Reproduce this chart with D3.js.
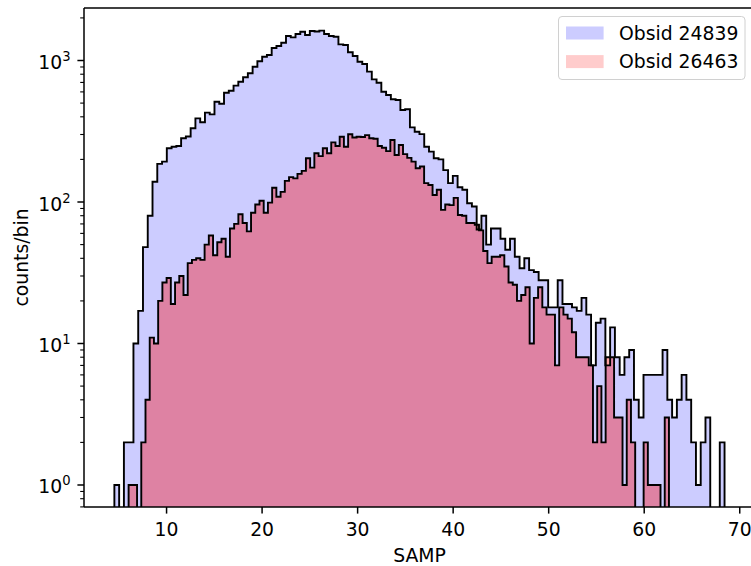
<!DOCTYPE html>
<html>
<head>
<meta charset="utf-8">
<script src="https://cdn.jsdelivr.net/npm/d3@7"></script>
<style>
body { margin: 0; background: #fff; }
text { font-family: "DejaVu Sans", sans-serif; fill: #000; }
</style>
</head>
<body>
<svg id="chart" width="751" height="566"></svg>
<script>
// counts per bin, 128 bins for each obsid
var blueCounts = [1,0,2,2,10,17,48,80,139,186,
    193,240,246,249,282,290,332,390,366,428,
    416,511,495,592,612,664,708,761,812,904,
    987,1064,1093,1225,1265,1335,1489,1458,1538,1598,
    1513,1616,1605,1625,1538,1489,1473,1301,1286,1143,
    1076,981,945,834,736,697,602,570,532,526,
    447,452,337,314,302,246,227,204,200,168,
    136,153,127,122,98,93,64,80,50,65,
    65,55,46,55,41,34,40,33,32,28,
    28,18,18,28,19,19,18,17,21,16,
    7,14,15,7,13,8,6,8,9,4,
    3,6,6,6,6,9,4,3,4,6,
    4,2,1,2,3,0,0,2];
var redCounts = [1,1,0,2,4,11,10,20,27,29,
    19,27,30,22,37,39,40,39,50,58,
    42,52,55,41,65,70,82,71,62,84,
    96,102,84,99,126,109,118,141,150,147,
    158,166,204,175,221,211,240,221,264,249,
    289,246,301,286,289,288,297,282,280,249,
    242,229,274,215,253,218,205,193,173,178,
    136,132,112,122,88,96,95,107,81,80,
    71,71,69,63,45,37,41,41,42,35,
    27,26,20,22,25,10,21,25,18,16,
    16,7,18,16,15,12,8,8,8,7,
    2,5,2,8,8,3,3,1,4,2,
    0,0,2,1,1,1,0,3];

// bin edges (SAMP units)
var blueBins = {start: 4.59, width: 0.499};
var redBins = {start: 6.08, width: 0.4419};

var seriesNames = ["Obsid 24839", "Obsid 26463"];
var xTicks = [10, 20, 30, 40, 50, 60, 70];
var yMajor = [1, 10, 100, 1000];
var yExp = ["0", "1", "2", "3"];

var fs = 18.8;
var margin = {left: 84, right: -4, top: 8, bottom: 59};
var width = 751 - margin.left - margin.right,
    height = 566 - margin.top - margin.bottom;

var svg = d3.select("#chart");

var x = d3.scaleLinear()
    .domain([1.41, 71.65])
    .range([0, width]);

var y = d3.scaleLog()
    .domain([0.699, 2350])
    .range([height, 0]);

var g = svg.append("g")
    .attr("transform", "translate(" + margin.left + "," + margin.top + ")");

g.append("clipPath")
    .attr("id", "plotclip")
    .append("rect")
    .attr("x", 0).attr("y", 0)
    .attr("width", width).attr("height", height);

// step outline of a histogram, zero bins drop below the axis
function stepPath(counts, bins) {
    var base = height + 30;
    var p = "M" + x(bins.start) + "," + base;
    counts.forEach(function (c, i) {
        var yy = c > 0 ? y(c) : base;
        p += "L" + x(bins.start + i * bins.width) + "," + yy;
        p += "L" + x(bins.start + (i + 1) * bins.width) + "," + yy;
    });
    p += "L" + x(bins.start + counts.length * bins.width) + "," + base;
    return p;
}

var plot = g.append("g").attr("clip-path", "url(#plotclip)");

plot.append("path")
    .attr("d", stepPath(blueCounts, blueBins) + "Z")
    .attr("fill", "rgb(204,204,255)");
plot.append("path")
    .attr("d", stepPath(redCounts, redBins) + "Z")
    .attr("fill", "red")
    .attr("fill-opacity", 0.36);

plot.append("path")
    .attr("d", stepPath(blueCounts, blueBins))
    .attr("fill", "none")
    .attr("stroke", "#000")
    .attr("stroke-width", 1.9);
plot.append("path")
    .attr("d", stepPath(redCounts, redBins))
    .attr("fill", "none")
    .attr("stroke", "#000")
    .attr("stroke-width", 1.9);

// X Axis
var xAxisCall = d3.axisBottom(x)
    .tickValues(xTicks)
    .tickSize(6.6)
    .tickPadding(9)
    .tickFormat(d3.format("d"));
var xAxis = g.append("g")
    .attr("transform", "translate(0," + height + ")")
    .call(xAxisCall);
xAxis.select(".domain").remove();
xAxis.selectAll("line").attr("stroke", "#000").attr("stroke-width", 1.5);
xAxis.selectAll("text").attr("font-size", fs).attr("font-family", "DejaVu Sans");

// Y Axis, minor ticks first
var yMinor = [];
[-1, 0, 1, 2, 3].forEach(function (d) {
    for (var m = 2; m <= 9; m++) {
        var v = m * Math.pow(10, d);
        if (v >= 0.699 && v <= 2350) yMinor.push(v);
    }
});
g.selectAll(".yminor")
    .data(yMinor)
    .enter()
    .append("line")
    .attr("x1", -3.8).attr("x2", 0)
    .attr("y1", function (d) { return y(d); })
    .attr("y2", function (d) { return y(d); })
    .attr("stroke", "#000")
    .attr("stroke-width", 1.1);

g.selectAll(".ymajor")
    .data(yMajor)
    .enter()
    .append("line")
    .attr("x1", -6.6).attr("x2", 0)
    .attr("y1", function (d) { return y(d); })
    .attr("y2", function (d) { return y(d); })
    .attr("stroke", "#000")
    .attr("stroke-width", 1.5);

var yLabels = g.selectAll(".ylab")
    .data(yMajor)
    .enter()
    .append("text")
    .attr("x", -13.5)
    .attr("y", function (d) { return y(d) + 8.5; })
    .attr("text-anchor", "end")
    .attr("font-size", fs);
yLabels.append("tspan").text("10");
yLabels.append("tspan")
    .attr("dy", -8)
    .attr("font-size", fs * 0.7)
    .text(function (d, i) { return yExp[i]; });

// spines
g.append("line").attr("x1", 0).attr("x2", 0).attr("y1", 0).attr("y2", height)
    .attr("stroke", "#000").attr("stroke-width", 1.5);
g.append("line").attr("x1", 0).attr("x2", width).attr("y1", height).attr("y2", height)
    .attr("stroke", "#000").attr("stroke-width", 1.5);
g.append("line").attr("x1", 0).attr("x2", width).attr("y1", 0).attr("y2", 0)
    .attr("stroke", "#000").attr("stroke-width", 1.5);

// axis labels
svg.append("text")
    .attr("x", margin.left + width / 2)
    .attr("y", 561.5)
    .attr("text-anchor", "middle")
    .attr("font-size", fs)
    .text("SAMP");
svg.append("text")
    .attr("transform", "translate(28," + (margin.top + height / 2) + ") rotate(-90)")
    .attr("text-anchor", "middle")
    .attr("font-size", fs)
    .text("counts/bin");

// legend
var legend = svg.append("g");
legend.append("rect")
    .attr("x", 558.5).attr("y", 16.5)
    .attr("width", 186.5).attr("height", 63)
    .attr("rx", 3.5)
    .attr("fill", "#fff").attr("fill-opacity", 0.8)
    .attr("stroke", "#d0d0d0").attr("stroke-width", 1);
var legendColors = ["rgb(204,204,255)", "rgb(255,204,204)"];
seriesNames.forEach(function (name, i) {
    legend.append("rect")
        .attr("x", 566).attr("y", 26.5 + i * 28.6)
        .attr("width", 37.6).attr("height", 13)
        .attr("fill", legendColors[i]);
    legend.append("text")
        .attr("x", 619).attr("y", 39.8 + i * 28.6)
        .attr("font-size", fs)
        .text(name);
});
</script>
</body>
</html>
